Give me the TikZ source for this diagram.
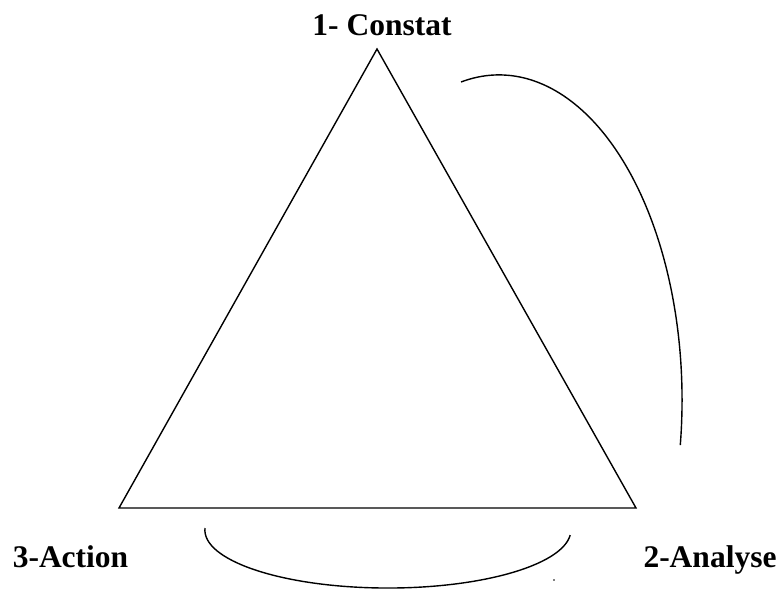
\documentclass[tikz,border=0pt]{standalone}
\usepackage{fontspec}
\setmainfont{Liberation Serif}

\begin{document}
\begin{tikzpicture}[x=1pt,y=-1pt]
  \tikzset{steplabel/.style={font=\fontsize{31.5}{36}\selectfont\bfseries,inner sep=0pt,anchor=base}}
  \tikzset{cycleline/.style={draw=black,line width=1.4pt}}

  \useasboundingbox (0,0) rectangle (779,589);

  \coordinate (top)   at (377, 49);
  \coordinate (left)  at (119, 508);
  \coordinate (right) at (636, 508);

  \node[steplabel] (constat) at (382, 35)  {1- Constat};
  \node[steplabel] (action)  at (70.5, 567) {3-Action};
  \node[steplabel] (analyse) at (710, 567) {2-Analyse};

  \draw[cycleline,line join=miter] (top) -- (right) -- (left) -- cycle;

  % arcs of the cycle
  \draw[cycleline] (461,82) arc[start angle=-102, end angle=8, x radius=183, y radius=325];
  \draw[cycleline] (205,528) arc[start angle=182, end angle=5, x radius=183, y radius=58];

  \fill (554,580) circle (0.9);
\end{tikzpicture}
\end{document}
